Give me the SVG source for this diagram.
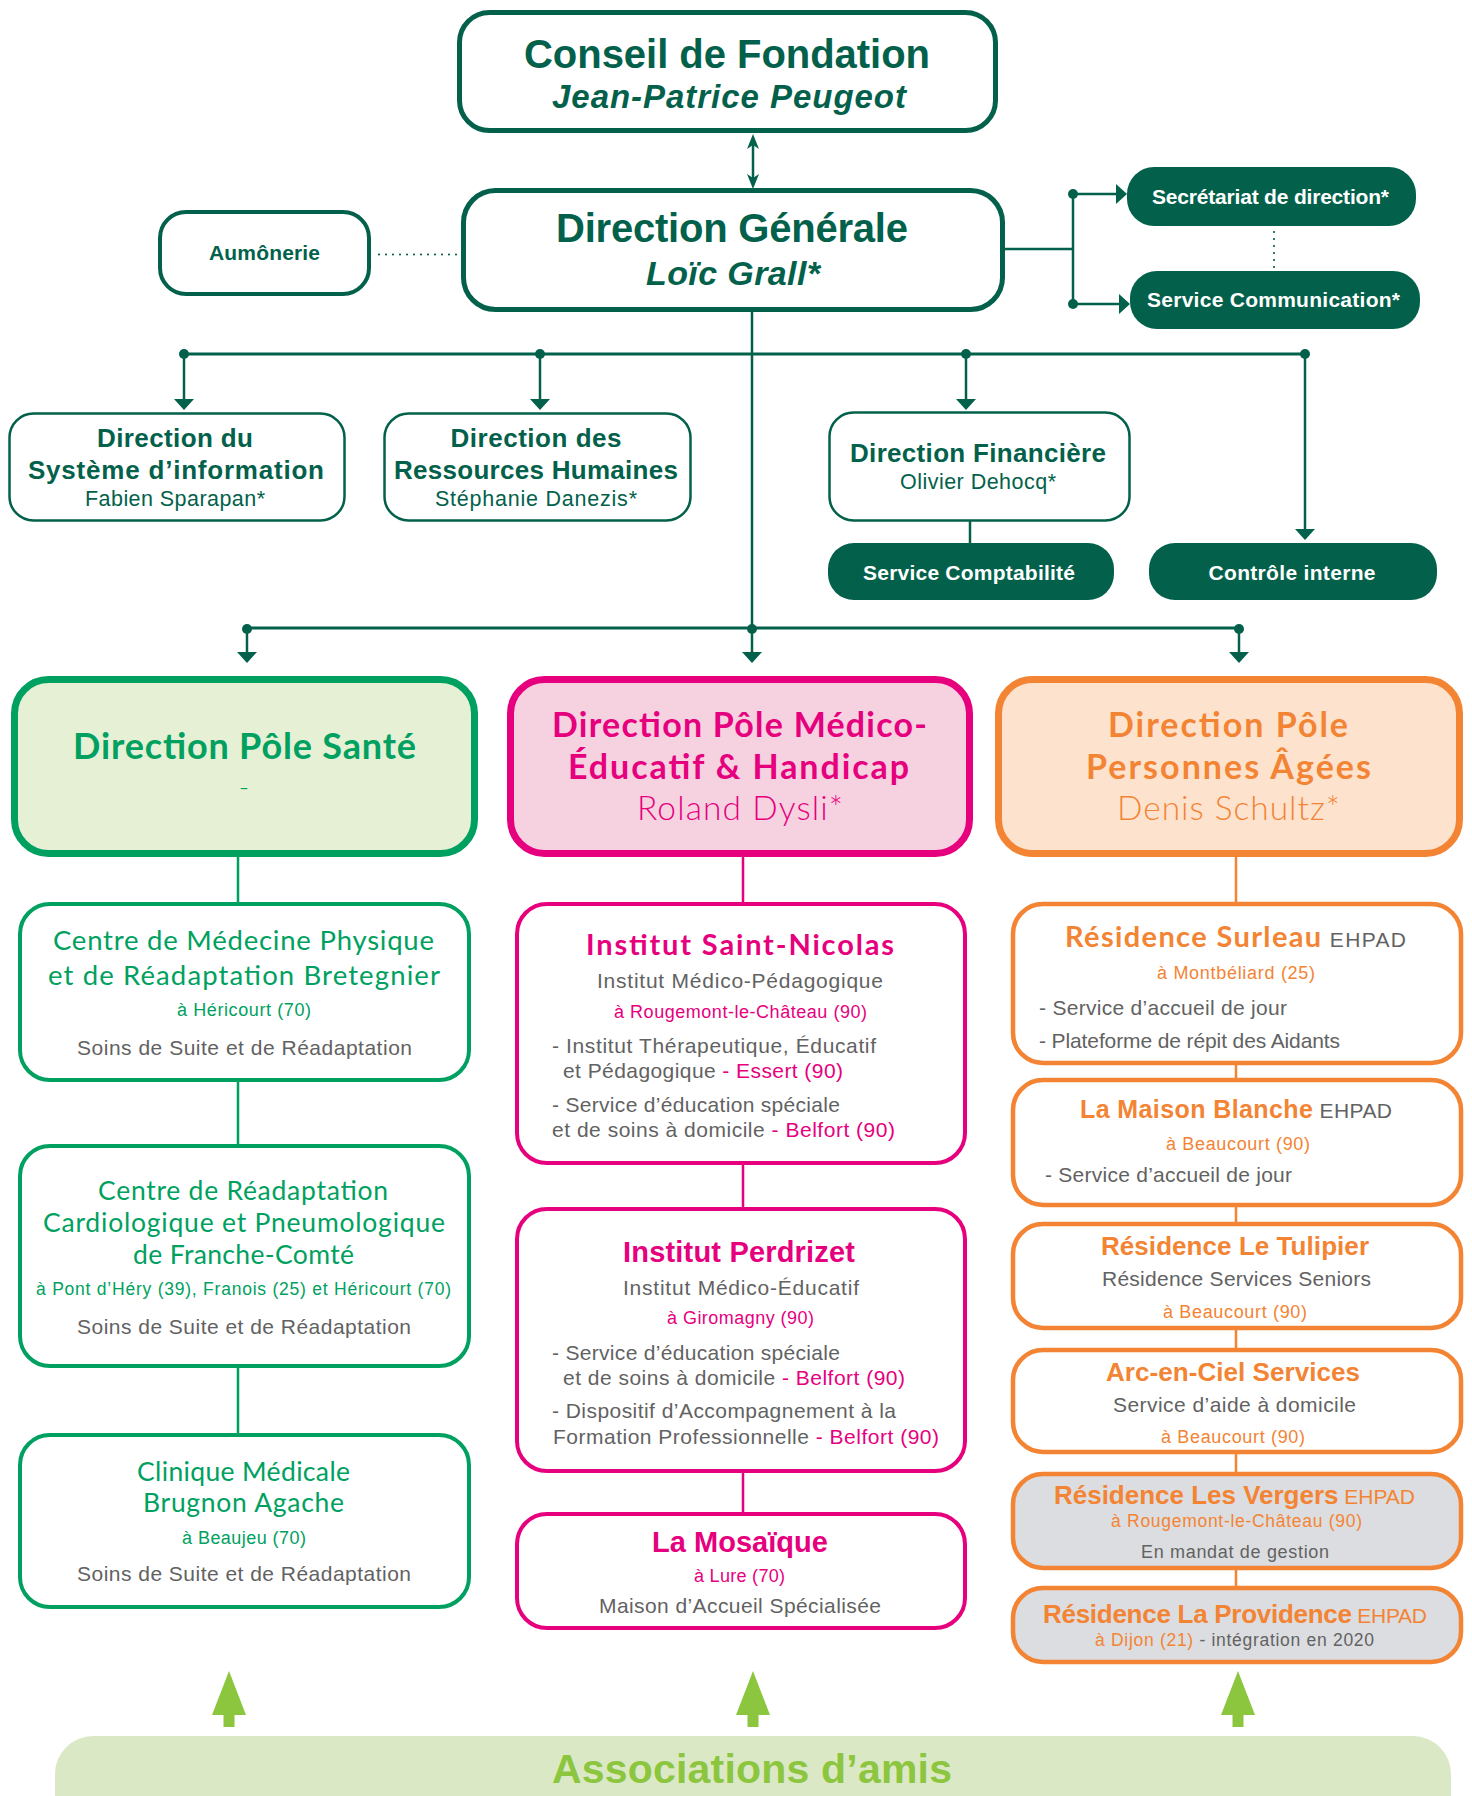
<svg xmlns="http://www.w3.org/2000/svg" width="1472" height="1796" viewBox="0 0 1472 1796">
<defs>
<style>
.hb{font-family:"Liberation Sans",Arial,sans-serif;font-weight:bold}
.hbi{font-family:"Liberation Sans",Arial,sans-serif;font-weight:bold;font-style:italic}
.hr{font-family:"Liberation Sans",Arial,sans-serif;font-weight:normal}
.lb{font-family:Lato,"Noto Sans",sans-serif;font-weight:bold}
.lr{font-family:Lato,"Noto Sans",sans-serif;font-weight:normal}
.ll{font-family:Lato,"Noto Sans",sans-serif;font-weight:300}
.m{text-anchor:middle}
.dk{fill:#03614b}
.gr{fill:#00a160}
.mg{fill:#e6007e}
.or{fill:#f38434}
.gy{fill:#626262}
.wh{fill:#ffffff}
.bdk5{fill:#fff;stroke:#03614b;stroke-width:5}
.bdk4{fill:#fff;stroke:#03614b;stroke-width:4}
.bdk3{fill:#fff;stroke:#03614b;stroke-width:2.5}
.bfill{fill:#03614b}
.pgr{fill:#e5f0d5;stroke:#00a160;stroke-width:7}
.pmg{fill:#f6d2e1;stroke:#e6007e;stroke-width:7}
.por{fill:#fde3ce;stroke:#f38434;stroke-width:7}
.cgr{fill:#fff;stroke:#00a160;stroke-width:4}
.cmg{fill:#fff;stroke:#e6007e;stroke-width:4}
.cor{fill:#fff;stroke:#f38434;stroke-width:4.5}
.cgy{fill:#dcdde0;stroke:#f38434;stroke-width:4.5}
.ln{fill:none;stroke:#03614b;stroke-width:2.5}
.lgr{fill:none;stroke:#00a160;stroke-width:2.5}
.lmg{fill:none;stroke:#e6007e;stroke-width:2.5}
.lor{fill:none;stroke:#f38434;stroke-width:2.5}
.dot{fill:#03614b}
.dotted{fill:none;stroke:#03614b;stroke-width:2.2;stroke-linecap:round;stroke-dasharray:0 7}
.garr{fill:#8cc63f}
</style>
<marker id="ah" viewBox="0 0 11 20" refX="3" refY="10" markerWidth="11" markerHeight="20" markerUnits="userSpaceOnUse" orient="auto">
<path d="M0,0 L11,10 L0,20 z" fill="#03614b"/>
</marker>
<marker id="ah2" viewBox="0 0 15 12" refX="7" refY="6" markerWidth="15" markerHeight="12" markerUnits="userSpaceOnUse" orient="auto-start-reverse">
<path d="M0,0 L15,6 L0,12 L4,6 z" fill="#03614b"/>
</marker>
</defs>

<g id="connectors">
<path class="ln" d="M753,142 V181" marker-start="url(#ah2)" marker-end="url(#ah2)"/>
<path class="dotted" d="M379,254.5 H457"/>
<path class="ln" d="M1003,249 H1073 M1073,194 V304"/>
<path class="ln" d="M1073,194 H1119" marker-end="url(#ah)"/>
<path class="ln" d="M1073,304 H1122" marker-end="url(#ah)"/>
<circle class="dot" cx="1073" cy="194" r="5"/>
<circle class="dot" cx="1073" cy="304" r="5"/>
<path class="dotted" d="M1274,232 V268"/>
<path class="ln" d="M752,310 V630"/>
<path class="ln" style="stroke-width:3" d="M184,354 H1305"/>
<path class="ln" d="M184,354 V402" marker-end="url(#ah)"/>
<path class="ln" d="M540,354 V402" marker-end="url(#ah)"/>
<path class="ln" d="M966,354 V402" marker-end="url(#ah)"/>
<path class="ln" d="M1305,354 V532" marker-end="url(#ah)"/>
<circle class="dot" cx="184" cy="354" r="5"/>
<circle class="dot" cx="540" cy="354" r="5"/>
<circle class="dot" cx="966" cy="354" r="5"/>
<circle class="dot" cx="1305" cy="354" r="5"/>
<path class="ln" d="M970,521 V543"/>
<path class="ln" style="stroke-width:3" d="M247,628 H1239"/>
<path class="ln" d="M247,628 V655" marker-end="url(#ah)"/>
<path class="ln" d="M752,628 V655" marker-end="url(#ah)"/>
<path class="ln" d="M1239,628 V655" marker-end="url(#ah)"/>
<circle class="dot" cx="247" cy="629" r="5"/>
<circle class="dot" cx="752" cy="629" r="5"/>
<circle class="dot" cx="1239" cy="629" r="5"/>
<path class="lgr" d="M238,857 V902 M238,1082 V1144 M238,1368 V1433"/>
<path class="lmg" d="M743,857 V902 M743,1165 V1207 M743,1473 V1512"/>
<path class="lor" d="M1236,857 V902 M1236,1065 V1078 M1236,1207 V1222 M1236,1330 V1348 M1236,1454 V1472 M1236,1570 V1586"/>
<polygon class="garr" points="229,1671 246,1715 234.5,1715 234.5,1727 223.5,1727 223.5,1715 212,1715"/>
<polygon class="garr" points="753,1671 770,1715 758.5,1715 758.5,1727 747.5,1727 747.5,1715 736,1715"/>
<polygon class="garr" points="1238,1671 1255,1715 1243.5,1715 1243.5,1727 1232.5,1727 1232.5,1715 1221,1715"/>
</g>

<g id="conseil">
<rect class="bdk5" x="459.5" y="12.5" width="536" height="118" rx="30"/>
<text class="hb dk m" x="727" y="68" font-size="40" textLength="406">Conseil de Fondation</text>
<text class="hbi dk m" x="729" y="108" font-size="33" textLength="354">Jean-Patrice Peugeot</text>
</g>

<g id="direction-generale">
<rect class="bdk5" x="463.5" y="190.5" width="539" height="119" rx="32"/>
<text class="hb dk m" x="732" y="242" font-size="40" textLength="352">Direction Générale</text>
<text class="hbi dk m" x="733" y="285" font-size="34" textLength="174">Loïc Grall*</text>
</g>

<g id="aumonerie">
<rect class="bdk4" x="160" y="212" width="209" height="82" rx="26"/>
<text class="hb dk m" x="264.5" y="260" font-size="21" textLength="111">Aumônerie</text>
</g>

<g id="secretariat">
<rect class="bfill" x="1127" y="167" width="289" height="59" rx="27"/>
<text class="hb wh m" x="1270.5" y="204" font-size="21" textLength="237">Secrétariat de direction*</text>
</g>

<g id="communication">
<rect class="bfill" x="1130" y="271" width="290" height="58" rx="27"/>
<text class="hb wh m" x="1273.5" y="307" font-size="21" textLength="253">Service Communication*</text>
</g>

<g id="dsi">
<rect class="bdk3" x="9.5" y="413.5" width="335" height="107" rx="24"/>
<text class="hb dk m" x="175" y="447" font-size="26" textLength="156">Direction du</text>
<text class="hb dk m" x="176" y="479" font-size="26" textLength="296">Système d’information</text>
<text class="hr dk m" x="175" y="506" font-size="21.5" textLength="180">Fabien Sparapan*</text>
</g>

<g id="drh">
<rect class="bdk3" x="384.5" y="413.5" width="306" height="107" rx="24"/>
<text class="hb dk m" x="536" y="447" font-size="26" textLength="171">Direction des</text>
<text class="hb dk m" x="536" y="479" font-size="26" textLength="284">Ressources Humaines</text>
<text class="hr dk m" x="536" y="506" font-size="21.5" textLength="202">Stéphanie Danezis*</text>
</g>

<g id="finance">
<rect class="bdk3" x="829.5" y="412.5" width="300" height="108" rx="24"/>
<text class="hb dk m" x="978" y="462" font-size="26" textLength="256">Direction Financière</text>
<text class="hr dk m" x="978" y="488.5" font-size="21.5" textLength="156">Olivier Dehocq*</text>
</g>

<g id="comptabilite">
<rect class="bfill" x="828" y="543" width="286" height="57" rx="26"/>
<text class="hb wh m" x="969" y="580" font-size="21" textLength="212">Service Comptabilité</text>
</g>

<g id="controle">
<rect class="bfill" x="1149" y="543" width="288" height="57" rx="26"/>
<text class="hb wh m" x="1292" y="580" font-size="21" textLength="167">Contrôle interne</text>
</g>

<g id="pole-sante">
<rect class="pgr" x="14.5" y="679.5" width="460" height="174" rx="34"/>
<text class="lb gr m" x="244.5" y="759" font-size="36" textLength="343">Direction Pôle Santé</text>
<text class="ll gr m" x="244" y="797" font-size="28">-</text>
</g>

<g id="pole-medico">
<rect class="pmg" x="510.5" y="679.5" width="459" height="174" rx="34"/>
<text class="lb mg m" x="739.5" y="737" font-size="34" textLength="375">Direction Pôle Médico-</text>
<text class="lb mg m" x="738.5" y="779" font-size="34" textLength="341">Éducatif &amp; Handicap</text>
<text class="ll mg m" x="740" y="820" font-size="33.5" textLength="206">Roland Dysli*</text>
</g>

<g id="pole-pa">
<rect class="por" x="998.5" y="679.5" width="461" height="174" rx="34"/>
<text class="lb or m" x="1228" y="737" font-size="34" textLength="240">Direction Pôle</text>
<text class="lb or m" x="1228.5" y="779" font-size="34" textLength="285">Personnes Âgées</text>
<text class="ll or m" x="1228.5" y="820" font-size="33.5" textLength="223">Denis Schultz*</text>
</g>

<g id="bretegnier">
<rect class="cgr" x="20" y="904" width="449" height="176" rx="30"/>
<text class="lr gr m" x="243.5" y="950" font-size="27.5" textLength="381">Centre de Médecine Physique</text>
<text class="lr gr m" x="244" y="985" font-size="27.5" textLength="392">et de Réadaptation Bretegnier</text>
<text class="hr gr m" x="244" y="1016" font-size="18" textLength="134">à Héricourt (70)</text>
<text class="hr gy m" x="244.5" y="1055" font-size="21" textLength="335">Soins de Suite et de Réadaptation</text>
</g>

<g id="readaptation-cardio">
<rect class="cgr" x="20" y="1146" width="449" height="220" rx="30"/>
<text class="lr gr m" x="243" y="1200" font-size="26.5" textLength="290">Centre de Réadaptation</text>
<text class="lr gr m" x="244" y="1232" font-size="26.5" textLength="402">Cardiologique et Pneumologique</text>
<text class="lr gr m" x="243.5" y="1264" font-size="26.5" textLength="221">de Franche-Comté</text>
<text class="hr gr m" x="243.5" y="1295" font-size="17.5" textLength="415">à Pont d’Héry (39), Franois (25) et Héricourt (70)</text>
<text class="hr gy m" x="244" y="1334" font-size="21" textLength="334">Soins de Suite et de Réadaptation</text>
</g>

<g id="brugnon-agache">
<rect class="cgr" x="20" y="1435" width="449" height="172" rx="30"/>
<text class="lr gr m" x="243.5" y="1481" font-size="26.5" textLength="213">Clinique Médicale</text>
<text class="lr gr m" x="243.5" y="1512" font-size="26.5" textLength="201">Brugnon Agache</text>
<text class="hr gr m" x="244" y="1544" font-size="18" textLength="124">à Beaujeu (70)</text>
<text class="hr gy m" x="244" y="1581" font-size="21" textLength="334">Soins de Suite et de Réadaptation</text>
</g>

<g id="saint-nicolas">
<rect class="cmg" x="517" y="904" width="448" height="259" rx="30"/>
<text class="lb mg m" x="740" y="955" font-size="29" textLength="308">Institut Saint-Nicolas</text>
<text class="hr gy m" x="740" y="988" font-size="21" textLength="286">Institut Médico-Pédagogique</text>
<text class="hr mg m" x="740.5" y="1018" font-size="18" textLength="253">à Rougemont-le-Château (90)</text>
<text class="hr gy" x="552" y="1053" font-size="21" textLength="324">- Institut Thérapeutique, Éducatif</text>
<text class="hr gy" x="563" y="1078" font-size="21" textLength="280">et Pédagogique <tspan class="mg">- Essert (90)</tspan></text>
<text class="hr gy" x="552" y="1112" font-size="21" textLength="288">- Service d’éducation spéciale</text>
<text class="hr gy" x="552" y="1137" font-size="21" textLength="343">et de soins à domicile <tspan class="mg">- Belfort (90)</tspan></text>
</g>

<g id="perdrizet">
<rect class="cmg" x="517" y="1209" width="448" height="262" rx="30"/>
<text class="hb mg m" x="739" y="1262" font-size="29" textLength="232">Institut Perdrizet</text>
<text class="hr gy m" x="741" y="1295" font-size="21" textLength="236">Institut Médico-Éducatif</text>
<text class="hr mg m" x="740.5" y="1324" font-size="18" textLength="147">à Giromagny (90)</text>
<text class="hr gy" x="552" y="1360" font-size="21" textLength="288">- Service d’éducation spéciale</text>
<text class="hr gy" x="563" y="1385" font-size="21" textLength="342">et de soins à domicile <tspan class="mg">- Belfort (90)</tspan></text>
<text class="hr gy" x="552" y="1418" font-size="21" textLength="344">- Dispositif d’Accompagnement à la</text>
<text class="hr gy" x="553" y="1444" font-size="21" textLength="386">Formation Professionnelle <tspan class="mg">- Belfort (90)</tspan></text>
</g>

<g id="mosaique">
<rect class="cmg" x="517" y="1514" width="448" height="114" rx="30"/>
<text class="hb mg m" x="740" y="1552" font-size="29" textLength="176">La Mosaïque</text>
<text class="hr mg m" x="739.5" y="1582" font-size="18" textLength="91">à Lure (70)</text>
<text class="hr gy m" x="740" y="1613" font-size="21" textLength="282">Maison d’Accueil Spécialisée</text>
</g>

<g id="surleau">
<rect class="cor" x="1013" y="904" width="448" height="159" rx="30"/>
<text class="lb or m" x="1235.5" y="947" font-size="29" textLength="341">Résidence Surleau<tspan class="hr gy" font-size="21"> EHPAD</tspan></text>
<text class="hr or m" x="1236" y="979" font-size="18" textLength="158">à Montbéliard (25)</text>
<text class="hr gy" x="1039" y="1015" font-size="21" textLength="248">- Service d’accueil de jour</text>
<text class="hr gy" x="1039" y="1048" font-size="21" textLength="301">- Plateforme de répit des Aidants</text>
</g>

<g id="maison-blanche">
<rect class="cor" x="1013" y="1080" width="448" height="125" rx="30"/>
<text class="hb or m" x="1236" y="1118" font-size="25" textLength="312">La Maison Blanche<tspan class="hr gy" font-size="21"> EHPAD</tspan></text>
<text class="hr or m" x="1238" y="1150" font-size="18" textLength="144">à Beaucourt (90)</text>
<text class="hr gy" x="1045" y="1182" font-size="21" textLength="247">- Service d’accueil de jour</text>
</g>

<g id="tulipier">
<rect class="cor" x="1013" y="1224" width="448" height="104" rx="30"/>
<text class="hb or m" x="1235" y="1255" font-size="26" textLength="268">Résidence Le Tulipier</text>
<text class="hr gy m" x="1236.5" y="1286" font-size="21" textLength="269">Résidence Services Seniors</text>
<text class="hr or m" x="1235" y="1318" font-size="18" textLength="144">à Beaucourt (90)</text>
</g>

<g id="arc-en-ciel">
<rect class="cor" x="1013" y="1350" width="448" height="102" rx="30"/>
<text class="hb or m" x="1233" y="1381" font-size="26" textLength="254">Arc-en-Ciel Services</text>
<text class="hr gy m" x="1234.5" y="1412" font-size="21" textLength="243">Service d’aide à domicile</text>
<text class="hr or m" x="1233" y="1443" font-size="18" textLength="144">à Beaucourt (90)</text>
</g>

<g id="vergers">
<rect class="cgy" x="1013" y="1474" width="448" height="94" rx="30"/>
<text class="hb or m" x="1234.5" y="1504" font-size="26" textLength="361">Résidence Les Vergers<tspan class="hr" font-size="21"> EHPAD</tspan></text>
<text class="hr or m" x="1236.5" y="1526.5" font-size="17.5" textLength="251">à Rougemont-le-Château (90)</text>
<text class="hr gy m" x="1235" y="1558" font-size="18" textLength="188">En mandat de gestion</text>
</g>

<g id="providence">
<rect class="cgy" x="1013" y="1588" width="448" height="74" rx="30"/>
<text class="hb or m" x="1235" y="1623" font-size="26" textLength="384">Résidence La Providence<tspan class="hr" font-size="21"> EHPAD</tspan></text>
<text class="hr or m" x="1234.5" y="1645.5" font-size="17.5" textLength="279">à Dijon (21)<tspan class="gy"> - intégration en 2020</tspan></text>
</g>

<g id="associations">
<rect x="55" y="1736" width="1396" height="130" rx="38" fill="#dbe8c6"/>
<text class="hb m" x="752" y="1783" font-size="41" fill="#8cc63f" textLength="400">Associations d’amis</text>
</g>
</svg>
